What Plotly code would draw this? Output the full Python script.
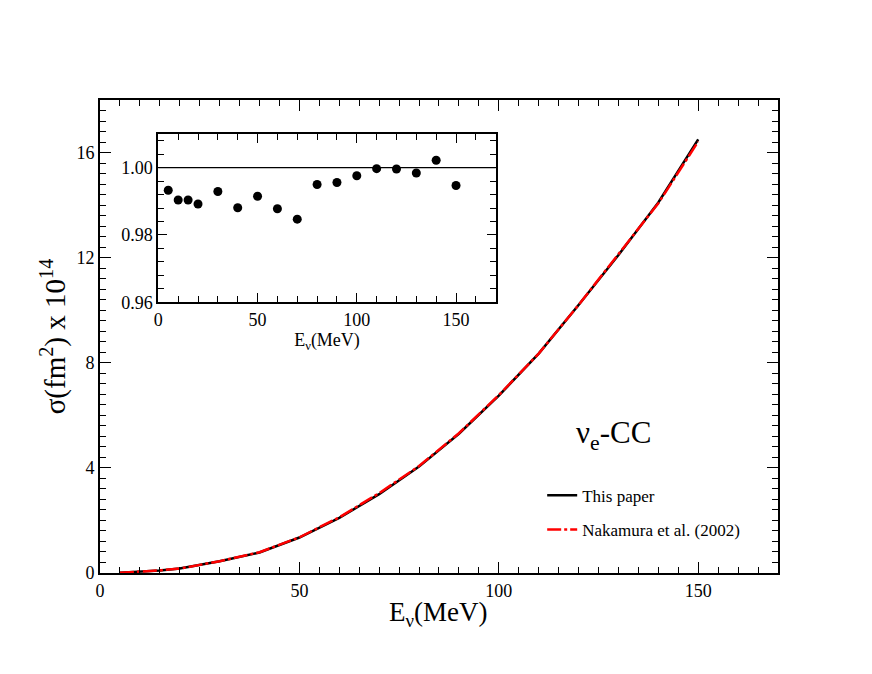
import plotly.graph_objects as go

# neutrino energies (MeV)
energy = [5, 10, 15, 20, 30, 40, 50, 60, 70, 80, 90, 100, 110, 120, 130, 140, 150]

# sigma (fm^2) x 10^14
sigma_this = [0.01, 0.05, 0.10, 0.17, 0.45, 0.78, 1.35, 2.10, 3.00, 4.05, 5.30, 6.75, 8.35, 10.20, 12.10, 14.10, 16.50]
sigma_nakamura = [0.01, 0.05, 0.10, 0.17, 0.45, 0.79, 1.36, 2.12, 3.04, 4.07, 5.32, 6.77, 8.35, 10.20, 12.12, 14.07, 16.42]

# ratio shown in the inset
ratio = [0.9933, 0.9904, 0.9904, 0.9892, 0.9929, 0.9881, 0.9915, 0.9878, 0.9847,
         0.9950, 0.9956, 0.9976, 0.9997, 0.9996, 0.9984, 1.0022, 0.9947]

FONT = "Liberation Serif, Times New Roman, serif"

fig = go.Figure()

fig.add_scatter(
    x=energy, y=sigma_this, mode="lines", name="This paper",
    line=dict(color="black", width=2.5), legendgroup="a",
)
fig.add_scatter(
    x=energy, y=sigma_nakamura, mode="lines", name="Nakamura et al. (2002)",
    line=dict(color="red", width=2.5, dash="14px,3px,3px,3px"), legendgroup="b",
)
fig.add_scatter(
    x=energy, y=ratio, mode="markers", xaxis="x2", yaxis="y2",
    marker=dict(color="black", size=9), showlegend=False,
)

# line at 1.00 in the inset
fig.add_shape(type="line", xref="x2 domain", yref="y2", x0=0, x1=1, y0=1, y1=1,
              line=dict(color="black", width=1.3))

axis_common = dict(
    showline=True, linecolor="black", linewidth=1.8, mirror="allticks",
    ticks="inside", tickcolor="black", tickwidth=1.3, showgrid=False, zeroline=False,
    tickfont=dict(family=FONT, size=18, color="black"), automargin=False,
)

# the page body adds an 8px offset, domains below allow for it
fig.update_layout(
    width=872, height=674,
    margin=dict(l=0, r=0, t=0, b=0),
    paper_bgcolor="white", plot_bgcolor="white",
    font=dict(family=FONT, color="black"),
    xaxis=dict(
        axis_common, domain=[0.1055, 0.8830], range=[0, 170], dtick=50, ticklen=11,
        minor=dict(dtick=5, ticklen=6, ticks="inside", tickcolor="black", tickwidth=1.3),
    ),
    yaxis=dict(
        axis_common, domain=[0.1617, 0.8635], range=[0, 18], dtick=4, ticklen=11,
        minor=dict(dtick=0.4, ticklen=6, ticks="inside", tickcolor="black", tickwidth=1.3),
        title=dict(text="σ(fm<sup>2</sup>) x 10<sup>14</sup>", font=dict(family=FONT, size=29), standoff=2),
    ),
    xaxis2=dict(
        axis_common, domain=[0.1724, 0.5593], range=[0, 170], dtick=50, ticklen=9,
        anchor="y2",
        minor=dict(dtick=10, ticklen=6, ticks="inside", tickcolor="black", tickwidth=1.3),
        title=dict(text="E<sub>ν</sub>(MeV)", font=dict(family=FONT, size=18), standoff=0),
    ),
    yaxis2=dict(
        axis_common, domain=[0.5633, 0.8131], range=[0.96, 1.01], dtick=0.02, ticklen=9,
        anchor="x2", tickformat=".2f", tick0=0.96,
        minor=dict(dtick=0.004, ticklen=6, ticks="inside", tickcolor="black", tickwidth=1.3),
    ),
    legend=dict(
        x=0.6126, y=0.303, xanchor="left", yanchor="top",
        bgcolor="rgba(0,0,0,0)", font=dict(family=FONT, size=17),
        traceorder="grouped", tracegroupgap=9, itemwidth=30,
    ),
    annotations=[
        dict(text="ν<sub>e</sub>-CC", x=0.6496, y=0.366, xref="paper", yref="paper",
             xanchor="left", yanchor="middle",
             showarrow=False, font=dict(family=FONT, size=31)),
        dict(text="E<sub>ν</sub>(MeV)", x=0.494, y=0.1009, xref="paper", yref="paper",
             xanchor="center", yanchor="middle",
             showarrow=False, font=dict(family=FONT, size=27)),
    ],
)

fig.write_html("out.html")
